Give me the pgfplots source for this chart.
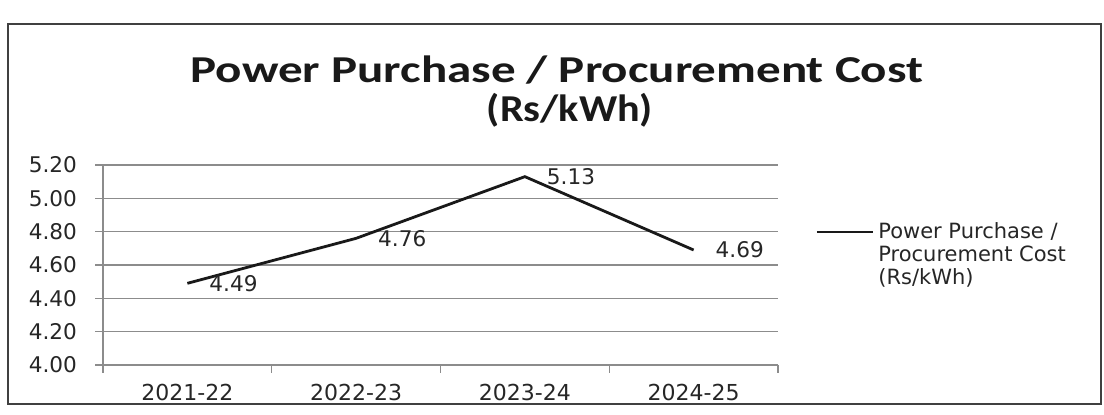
\documentclass[border=0pt]{standalone}
\usepackage{fontspec}
\setmainfont{DejaVu Sans}
\newfontfamily\titlefont{Carlito}
\usepackage{pgfplots}
\pgfplotsset{compat=1.18}
\definecolor{gridgray}{HTML}{8C8C8C}
\begin{document}
\begin{tikzpicture}[x=1pt,y=1pt]
\useasboundingbox (0,0) rectangle (552,207.5);
\draw[black!75, line width=0.9pt] (4,5.5) rectangle (550.5,195.5);
\node[anchor=base, xscale=1.29, font=\titlefont\bfseries\fontsize{19}{23}\selectfont, black!90] at (278.5,166) {Power Purchase / Procurement Cost};
\node[anchor=base, xscale=1.11, font=\titlefont\bfseries\fontsize{19}{23}\selectfont, black!90] at (285,146.5) {(Rs/kWh)};
\begin{axis}[
  at={(51.5pt,25pt)}, anchor=south west,
  scale only axis, width=337.5pt, height=100pt,
  xmin=-0.5, xmax=3.5, ymin=4, ymax=5.2,
  axis lines*=left,
  axis line style={gridgray, line width=0.7pt},
  ytick={4,4.2,4.4,4.6,4.8,5.0,5.2},
  yticklabel style={/pgf/number format/fixed, /pgf/number format/fixed zerofill, /pgf/number format/precision=2, /pgf/number format/assume math mode=true,
    font=\fontsize{10.8}{12}\selectfont, xshift=-5.5pt, text=black!85},
  ymajorgrids,
  major grid style={gridgray, line width=0.7pt},
  xtick={0,1,2,3},
  xticklabels={2021-22,2022-23,2023-24,2024-25},
  xticklabel style={font=\fontsize{11}{12}\selectfont, yshift=-2pt, text=black!85},
  minor xtick={-0.5,0.5,1.5,2.5,3.5},
  tick align=outside,
  major tick length=4pt,
  minor tick length=4pt,
  x tick style={draw=none},
  minor x tick style={draw=gridgray, line width=0.7pt},
  y tick style={gridgray, line width=0.7pt},
  clip=false,
  legend cell align=left,
  legend style={at={(1.055,0.735)}, anchor=north west, draw=none, fill=none,
    font=\fontsize{10.5}{11.5}\selectfont, inner sep=0pt, text=black!85},
  legend image code/.code={\draw[#1] (0pt,0pt) -- (28pt,0pt);},
]
\addplot[black!90, line width=1.4pt,
  nodes near coords={\pgfmathprintnumber[fixed,fixed zerofill,precision=2,assume math mode=true]{\pgfplotspointmeta}},
  nodes near coords style={anchor=west, xshift=7pt, font=\fontsize{10.8}{12}\selectfont, text=black!85},
  point meta=y]
  coordinates {(0,4.49) (1,4.76) (2,5.13) (3,4.69)};
\addlegendentry{\begin{tabular}[t]{@{}l@{}}Power Purchase /\\Procurement Cost\\(Rs/kWh)\end{tabular}}
\end{axis}
\end{tikzpicture}
\end{document}
